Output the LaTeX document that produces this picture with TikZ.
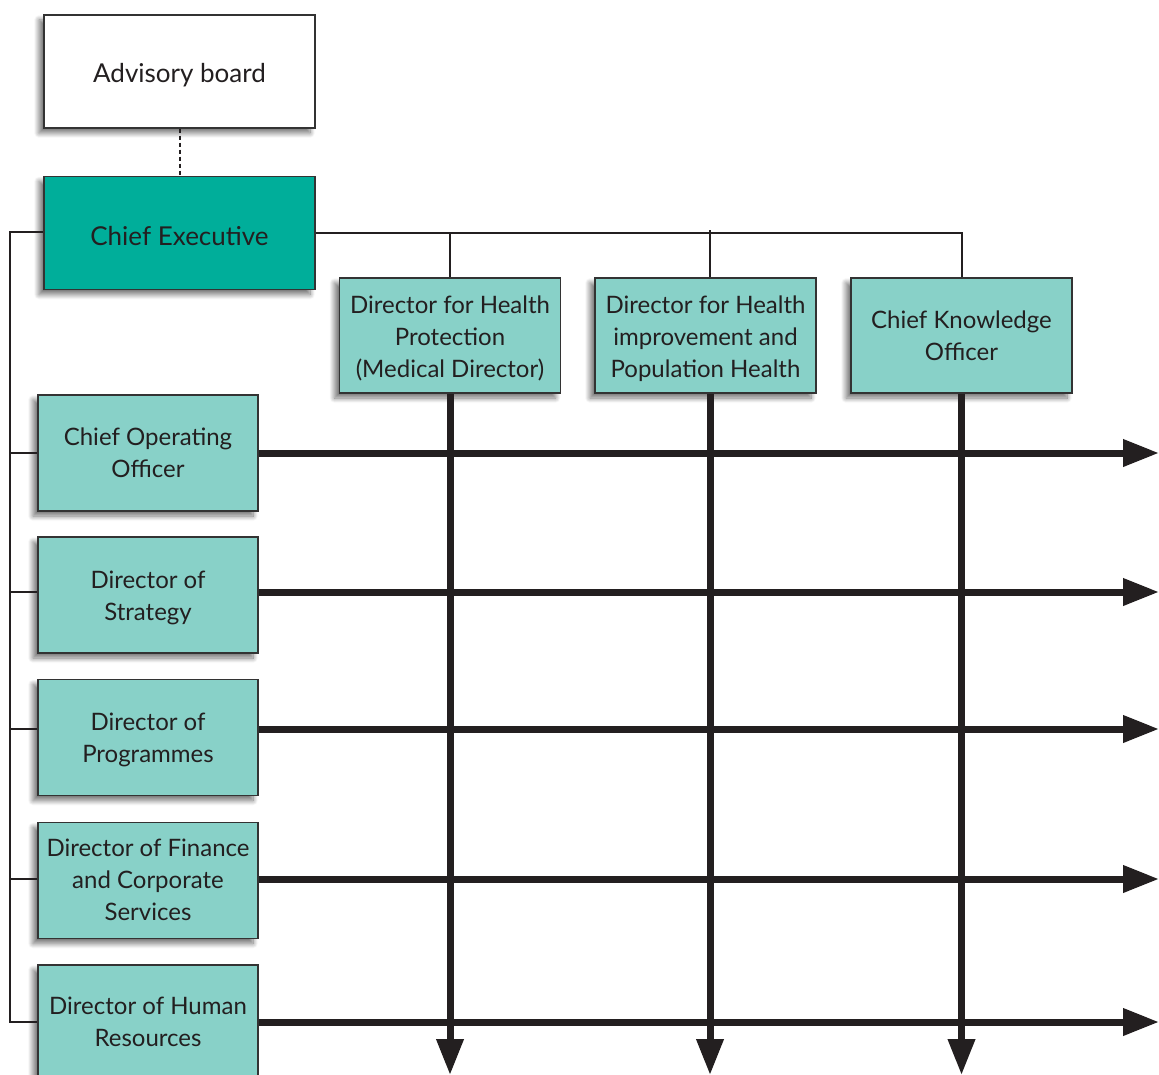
\documentclass[tikz,border=0pt]{standalone}
\usepackage{fontspec}
\setmainfont{Lato}
\usetikzlibrary{arrows.meta,shadows.blur}
\definecolor{lteal}{HTML}{88D1C8}
\definecolor{dteal}{HTML}{00AE9A}
\definecolor{txt}{HTML}{231F20}
\definecolor{edge}{HTML}{333333}
\newcommand\tx[2][0pt]{\raisebox{0pt}[\dimexpr\height+#1+#1\relax][\depth]{\begin{tabular}{@{}c@{}}#2\end{tabular}}}
\begin{document}
\begin{tikzpicture}[x=1pt,y=-1pt,
  box/.style={draw=edge, line width=1.3pt, fill=lteal, text=txt, inner sep=0pt,
    blur shadow={shadow xshift=-5pt, shadow yshift=-5pt, shadow blur steps=10, shadow blur radius=5pt, shadow opacity=55},
    font=\fontsize{24}{32}\selectfont},
  bigbox/.style={box, font=\fontsize{26}{32}\selectfont, minimum width=271pt, minimum height=113pt,
    execute at begin node={\rule{0pt}{26pt}}},
  topbox/.style={box, minimum width=221pt, minimum height=115pt},
  leftbox/.style={box, minimum width=220pt, minimum height=116pt},
  thin/.style={draw=txt, line width=2pt},
  thick/.style={draw=txt, line width=7pt, -{Triangle[length=36pt,width=26pt]}}
]
\useasboundingbox (0,0) rectangle (1159,1075);
\node[bigbox, fill=white] (adv) at (179.5,71.5) {Advisory board};
\node[bigbox, fill=dteal] (ce) at (179.5,233) {Chief Executive};
\node[topbox] (dhp) at (450,335.5) {\tx[4pt]{Director for Health\\Protection\\(Medical Director)}};
\node[topbox] (dhi) at (705.5,335.5) {\tx[4pt]{Director for Health\\improvement and\\Population Health}};
\node[topbox] (cko) at (961.5,335.5) {\tx[2.5pt]{Chief Knowledge\\Officer}};
\node[leftbox] (coo) at (148,453) {\tx[2pt]{Chief Operating\\Officer}};
\node[leftbox] (str) at (148,595) {\tx[3pt]{Director of\\Strategy}};
\node[leftbox] (prg) at (148,737.5) {\tx[2.5pt]{Director of\\Programmes}};
\node[leftbox] (fin) at (148,880.5) {\tx[1.5pt]{Director of Finance\\and Corporate\\Services}};
\node[leftbox, minimum height=112pt] (hr) at (148,1021) {\tx[3pt]{Director of Human\\Resources}};
\coordinate (rx) at (1159,0);
\coordinate (by) at (0,1075);
\coordinate (lx) at (10,0);
\coordinate (bar) at (ce.east);
% advisory link
\draw[thin, dash pattern=on 4pt off 3pt] (adv.south) -- (ce.north);
% top branch
\draw[thin] (bar) -| (cko.north);
\draw[thin] (dhp.north) -- (dhp.north |- bar);
\draw[thin] ([xshift=4.5pt]dhi.north) -- ([xshift=4.5pt,yshift=3pt]dhi.north |- bar);
% left spine
\draw[thin] ([yshift=1pt]ce.west) -| ([yshift=-1pt]lx |- hr.west) -- ([yshift=-1pt]hr.west);
\draw[thin] (coo.west) -- (coo.west -| lx);
\draw[thin] ([yshift=3pt]str.west) -- ([yshift=3pt]str.west -| lx);
\draw[thin] ([yshift=8.5pt]prg.west) -- ([yshift=8.5pt]prg.west -| lx);
\draw[thin] ([yshift=1.5pt]fin.west) -- ([yshift=1.5pt]fin.west -| lx);
% horizontal arrows
\draw[thick] (coo.east) -- (coo.east -| rx);
\draw[thick] ([yshift=3pt]str.east) -- ([yshift=3pt]str.east -| rx);
\draw[thick] ([yshift=8.5pt]prg.east) -- ([yshift=8.5pt]prg.east -| rx);
\draw[thick] ([yshift=1.5pt]fin.east) -- ([yshift=1.5pt]fin.east -| rx);
\draw[thick] ([yshift=-1pt]hr.east) -- ([yshift=-1pt]hr.east -| rx);
% vertical arrows
\draw[thick] (dhp.south) -- (dhp.south |- by);
\draw[thick] ([xshift=4.5pt]dhi.south) -- ([xshift=4.5pt]dhi.south |- by);
\draw[thick] (cko.south) -- (cko.south |- by);
\end{tikzpicture}
\end{document}
